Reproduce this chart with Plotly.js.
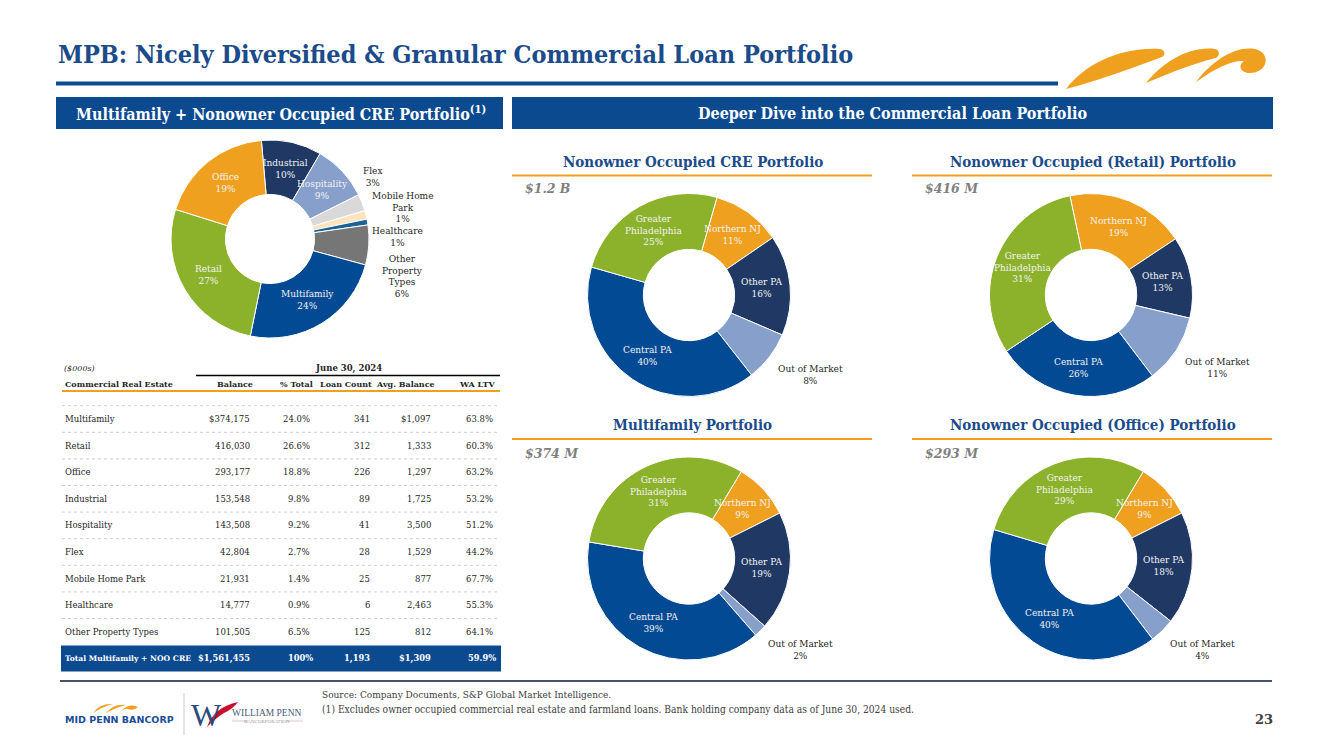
<!DOCTYPE html>
<html><head><meta charset="utf-8">
<script src="https://cdn.plot.ly/plotly-3.0.1.min.js"></script>
<style>html,body{margin:0;padding:0;background:#fff;} #chart{width:1333px;height:749px;}</style>
</head><body><div id="chart"></div>
<script>
// ---------------- DATA ----------------
const categories = ['Multifamily','Retail','Office','Industrial','Hospitality','Flex','Mobile Home Park','Healthcare','Other Property Types'];
const balance    = [374175, 416030, 293177, 153548, 143508, 42804, 21931, 14777, 101505];
const pctTotal   = [24.0, 26.6, 18.8, 9.8, 9.2, 2.7, 1.4, 0.9, 6.5];
const loanCount  = [341, 312, 226, 89, 41, 28, 25, 6, 125];
const avgBalance = [1097, 1333, 1297, 1725, 3500, 1529, 877, 2463, 812];
const waLtv      = [63.8, 60.3, 63.2, 53.2, 51.2, 44.2, 67.7, 55.3, 64.1];
const tableHeaders = ['Commercial Real Estate','Balance','% Total','Loan Count','Avg. Balance','WA LTV'];
const totalRow   = ['Total Multifamily + NOO CRE', '$1,561,455', '100%', '1,193', '$1,309', '59.9%'];

// donut (left) - clockwise order from top
const cmpCats    = ['Industrial','Hospitality','Flex','Mobile Home Park','Healthcare','Other Property Types','Multifamily','Retail','Office'];
const cmpLabels  = ['Industrial','Hospitality','Flex','Mobile Home<br>Park','Healthcare','Other<br>Property<br>Types','Multifamily','Retail','Office'];
const cmpPctText = ['10%','9%','3%','1%','1%','6%','24%','27%','19%'];
const cmpColors  = ['#1F3864','#86A0CB','#D9D9D9','#FCE4BF','#1A6394','#767676','#034A94','#8CB12B','#F0A01F'];

// regional donuts
const regions      = ['Northern NJ','Other PA','Out of Market','Central PA','Greater Philadelphia'];
const regionLabels = ['Northern NJ','Other PA','Out of Market','Central PA','Greater<br>Philadelphia'];
const regionColors = ['#F0A01F','#1F3864','#86A0CB','#034A94','#8CB12B'];
const creValues    = [11, 16, 8, 40, 25];
const retailValues = [19, 13, 11, 26, 31];
const multiValues  = [9, 19, 2, 39, 31];
const officeValues = [9, 18, 4, 40, 29];
const panelTitles  = ['Nonowner Occupied CRE Portfolio','Nonowner Occupied (Retail) Portfolio','Multifamily Portfolio','Nonowner Occupied (Office) Portfolio'];
const panelTotals  = ['$1.2 B','$416 M','$374 M','$293 M'];

// ---------------- HELPERS ----------------
const W = 1333, H = 749;
const X = px => px / W, Y = py => 1 - py / H;
const P = s => s.replace(/(-?\d+\.?\d*),(-?\d+\.?\d*)/g, (m,a,b) => X(+a).toFixed(5)+','+Y(+b).toFixed(5));
const dom = (cx, cy, r) => ({x:[X(cx-r), X(cx+r)], y:[Y(cy+r), Y(cy-r)]});
const fmt = n => n.toLocaleString('en-US');
const BLUE = '#0B4A8F', TBLUE = '#1B4B8A', ORANGE = '#F0A01F', INK = '#262626';
const SERIF = 'DejaVu Serif', COND = 'DejaVu Serif Condensed';

const traces = [], annotations = [], shapes = [];
const rect = (x0,y0,x1,y1,color) => shapes.push({type:'rect',xref:'paper',yref:'paper',x0:X(x0),x1:X(x1),y0:Y(y1),y1:Y(y0),fillcolor:color,line:{width:0},layer:'below'});
const hline = (x0,x1,y,color,width,dash) => shapes.push({type:'line',xref:'paper',yref:'paper',x0:X(x0),x1:X(x1),y0:Y(y),y1:Y(y),line:{color,width,dash:dash||'solid'}});
const txt = (x,y,text,opts) => annotations.push(Object.assign({xref:'paper',yref:'paper',x:X(x),y:Y(y),text,showarrow:false,xanchor:'center',yanchor:'middle'},opts||{}));
const path = (d,color) => shapes.push({type:'path',xref:'paper',yref:'paper',fillcolor:color,line:{width:0},path:P(d)});

// donut + data-driven labels at slice mid-angle
function donut(values, labels, texts, colors, cx, cy, r, rot, hole, outsideIdx) {
  traces.push({type:'pie', values, labels: labels.map(l=>l.replace(/<br>/g,' ')), sort:false, direction:'clockwise',
    rotation:rot, hole, domain:dom(cx,cy,r), marker:{colors, line:{color:'#ffffff', width:1}},
    textinfo:'none', hoverinfo:'label+value', showlegend:false});
  const tot = values.reduce((a,b)=>a+b,0);
  let cum = 0;
  const mids = [];
  values.forEach((v,i) => {
    const mid = (rot + 360*(cum + v/2)/tot) * Math.PI/180;
    mids.push(mid);
    cum += v;
    if (outsideIdx.includes(i)) return;
    const rm = r*(1+hole)/2;
    txt(cx + rm*Math.sin(mid), cy - rm*Math.cos(mid), labels[i]+'<br>'+texts[i],
        {font:{family:SERIF,size:9,color:'#F2F2F2'}});
  });
  return mids;
}

// ---------------- LEFT DONUT ----------------
donut(cmpCats.map(c => balance[categories.indexOf(c)]), cmpLabels, cmpPctText, cmpColors,
      270, 239, 99, -5, 0.45, [2,3,4,5]);
const leftOutsidePos = {2:[373,177], 3:[402,207.5], 4:[397,237], 5:[402,276]};
Object.keys(leftOutsidePos).forEach(k => {
  const [x,y] = leftOutsidePos[k];
  txt(x, y, cmpLabels[k]+'<br>'+cmpPctText[k], {font:{family:SERIF,size:9,color:INK}});
});

// ---------------- REGIONAL DONUTS ----------------
const panels = [
  {vals:creValues,    cx:689,  cy:295,   rot:16,  lineY:175.5, titleY:161.5, totY:188, x0:512, x1:872},
  {vals:retailValues, cx:1091, cy:295,   rot:-12, lineY:175.5, titleY:161.5, totY:188, x0:912, x1:1272},
  {vals:multiValues,  cx:689,  cy:558.5, rot:31,  lineY:439,   titleY:425,   totY:453, x0:512, x1:872},
  {vals:officeValues, cx:1091, cy:558.5, rot:31,  lineY:439,   titleY:425,   totY:453, x0:912, x1:1272}
];
panels.forEach((p, k) => {
  const r = 101.5, hole = 0.45;
  const pct = p.vals.map(v => v + '%');
  const mids = donut(p.vals, regionLabels, pct, regionColors, p.cx, p.cy, r, p.rot, hole, [2]);
  txt(p.cx + 1.08*r*Math.sin(mids[2]), p.cy - 1.08*r*Math.cos(mids[2]), regionLabels[2]+'<br>'+pct[2],
      {xanchor:'left', yanchor:'top', align:'center', font:{family:SERIF,size:9,color:INK}});
  txt((p.x0+p.x1)/2 + 1, p.titleY, panelTitles[k], {font:{family:COND,size:15,weight:'bold',color:TBLUE}});
  hline(p.x0, p.x1, p.lineY, ORANGE, 2);
  txt(p.x0 + 11, p.totY, panelTotals[k], {xanchor:'left', font:{family:SERIF,size:12.5,weight:'bold',style:'italic',color:'#7F7F7F'}});
});

// ---------------- TABLE ----------------
const colRight  = [252, 312, 372, 433, 495];
const headRight = [255, 315, 374, 437, 497];
const rowY = i => 419 + 26.6*i;
txt(62, 368, '($000s)', {xanchor:'left', font:{family:SERIF,size:8,style:'italic',color:INK}});
txt(348, 368, '<b>June 30, 2024</b>', {font:{family:SERIF,size:8.5,color:INK}});
hline(196, 500, 375.5, '#000000', 1.3);
txt(63, 383.5, '<b>'+tableHeaders[0]+'</b>', {xanchor:'left', font:{family:SERIF,size:8,color:INK}});
tableHeaders.slice(1).forEach((h,j) => txt(headRight[j], 383.5, '<b>'+h+'</b>', {xanchor:'right', font:{family:SERIF,size:8,color:INK}}));
hline(62, 500, 391, ORANGE, 2);
categories.forEach((c,i) => {
  hline(62, 500, rowY(i) - 13.3, '#CFCFCF', 1, 'dot');
  const y = rowY(i);
  const cells = [(i===0?'$':'')+fmt(balance[i]), pctTotal[i].toFixed(1)+'%', fmt(loanCount[i]),
                 (i===0?'$':'')+fmt(avgBalance[i]), waLtv[i].toFixed(1)+'%'];
  txt(63, y, c, {xanchor:'left', font:{family:SERIF,size:8.5,color:INK}});
  cells.forEach((v,j) => txt(colRight[j], y, v, {xanchor:'right', font:{family:SERIF,size:8.5,color:INK}}));
});
rect(61, 645.5, 501, 671.5, BLUE);
const ty = rowY(categories.length);
txt(63, ty, '<b>'+totalRow[0]+'</b>', {xanchor:'left', font:{family:SERIF,size:7.6,color:'#FFFFFF'}});
totalRow.slice(1).forEach((v,j) => txt(colRight[j] + (j===1?3:0) + (j===4?3:0), ty, '<b>'+v+'</b>', {xanchor:'right', font:{family:SERIF,size:8.3,color:'#FFFFFF'}}));

// ---------------- PAGE FRAME ----------------
txt(56, 55, 'MPB: Nicely Diversified &amp; Granular Commercial Loan Portfolio', {xanchor:'left', font:{family:COND,size:25,weight:'bold',color:TBLUE}});
rect(56, 81.5, 1058, 85.5, BLUE);
// orange swoosh logo (top right)
path('M1066,89 C1085,64 1120,47 1160,49 C1165,50 1166,55 1162,57 C1138,66 1100,80 1066,89 Z', ORANGE);
path('M1146,83 C1164,61 1190,46 1215,49 C1220,50 1220,56 1216,58 C1195,63 1172,72 1146,83 Z', ORANGE);
path('M1196,82 C1214,58 1240,44 1258,50 C1271,55 1267,73 1250,73 C1241,73 1237,66 1244,61 C1233,60 1217,67 1196,82 Z', ORANGE);

rect(56, 97, 503, 129, BLUE);
txt(281, 113, 'Multifamily + Nonowner Occupied CRE Portfolio<sup>(1)</sup>', {font:{family:COND,size:16,weight:'bold',color:'#FFFFFF'}});
rect(512, 97, 1273, 129, BLUE);
txt(892, 113, 'Deeper Dive into the Commercial Loan Portfolio', {font:{family:COND,size:16,weight:'bold',color:'#FFFFFF'}});

// footer
hline(60, 1272, 681, '#44546A', 2);
txt(320, 694, 'Source: Company Documents, S&amp;P Global Market Intelligence.', {xanchor:'left', font:{family:COND,size:10,color:'#404040'}});
txt(320, 709, '(1) Excludes owner occupied commercial real estate and farmland loans. Bank holding company data as of June 30, 2024 used.', {xanchor:'left', font:{family:COND,size:10.2,color:'#404040'}});
txt(1264, 719, '23', {font:{family:SERIF,size:13,weight:'bold',color:'#404040'}});

// logos (bottom left)
txt(63, 719, 'MID PENN BANCORP', {xanchor:'left', font:{family:'DejaVu Sans',size:9.5,weight:'bold',color:'#1A4C9A'}});
path('M93,713 Q100,703 113,704 Q104,706 93,713 Z M106,713 Q114,703 126,705 Q117,707 106,713 Z M119,713 Q128,702 138,707 Q134,711 128,709 Q124,708 119,713 Z', ORANGE);
shapes.push({type:'line', xref:'paper', yref:'paper', x0:X(184), x1:X(184), y0:Y(735), y1:Y(693), line:{color:'#C8C8C8', width:1}});
txt(206, 715, 'W', {font:{family:'Liberation Serif',size:32,color:'#2E4A7D'}});
path('M207,727 Q214,707 238,702 Q233,709 224,713 Q216,718 207,727 Z', '#C8102E');
txt(230, 713, 'WILLIAM PENN', {xanchor:'left', font:{family:'Liberation Serif',size:9.5,color:'#4A5A7A'}});
txt(267, 721, 'BANCORPORATION', {font:{family:'Liberation Serif',size:5,color:'#9A9A9A'}});
hline(232, 248, 721, '#C9A0A8', 0.6);
hline(286, 303, 721, '#C9A0A8', 0.6);

Plotly.newPlot('chart', traces, {
  width:W, height:H, margin:{l:0,r:0,t:0,b:0}, paper_bgcolor:'#FFFFFF', plot_bgcolor:'#FFFFFF',
  showlegend:false, annotations, shapes, hovermode:false
}, {displayModeBar:false, staticPlot:true});
</script></body></html>
